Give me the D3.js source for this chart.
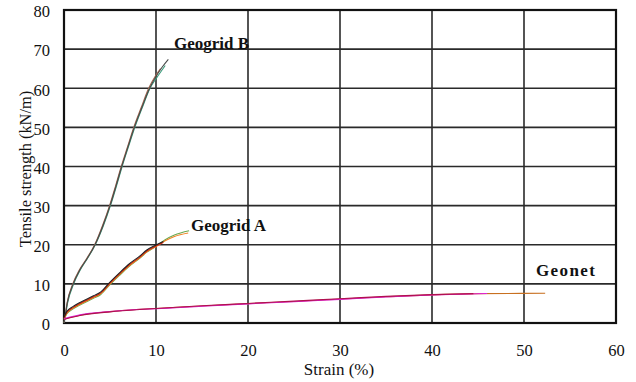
<!DOCTYPE html>
<html>
<head>
<meta charset="utf-8">
<script src="https://cdn.jsdelivr.net/npm/d3@7"></script>
<style>
  body { margin: 0; background: #fff; }
  svg { display: block; }
  text { font-family: "Liberation Serif", "Times New Roman", serif; fill: #111; }
</style>
</head>
<body>
<svg id="chart" width="636" height="382"></svg>
<script>
// Tensile test curves, strain (%) vs tensile strength (kN/m)
const xTicks = [0, 10, 20, 30, 40, 50, 60];
const yTicks = [0, 10, 20, 30, 40, 50, 60, 70, 80];

// Geogrid B specimens
const geogridBStrain1 = [0, 0.13, 0.36, 1.0, 1.7, 2.46, 3.37, 4.25, 5.0, 5.65, 6.27, 6.95, 7.64, 8.45, 9.3, 10.0, 10.7, 11.34];
const geogridBLoad1   = [0, 1.8, 5.2, 10, 13.5, 16.3, 20, 25, 30, 35, 40, 45, 50, 55, 60, 63, 65.5, 67.4];
const geogridBStrain2 = [0, 0.15, 0.4, 1.05, 1.75, 2.5, 3.4, 4.3, 5.05, 5.7, 6.32, 7.0, 7.7, 8.5, 9.35, 10.05, 10.7, 11.0];
const geogridBLoad2   = [0, 1.8, 5.2, 10, 13.5, 16.3, 20, 25, 30, 35, 40, 45, 50, 55, 60, 62.6, 64.8, 65.8];
const geogridBStrain3 = [0, 0.12, 0.34, 0.95, 1.65, 2.42, 3.33, 4.2, 4.95, 5.6, 6.22, 6.9, 7.58, 8.38, 9.2, 9.9, 10.5];
const geogridBLoad3   = [0, 1.8, 5.2, 10, 13.5, 16.3, 20, 25, 30, 35, 40, 45, 50, 55, 60, 63, 65];

// Geogrid A specimens
const geogridAStrain1 = [0, 0.3, 1, 1.74, 3.2, 4, 5, 6, 7, 8.26, 9, 10, 11, 12, 13.5];
const geogridALoad1   = [1, 2.5, 3.8, 4.8, 6.5, 7.5, 10, 12.3, 14.5, 16.7, 18.2, 19.5, 21, 22.1, 23];
const geogridAStrain2 = [0, 0.3, 1, 1.74, 3.2, 4, 5, 6, 7, 8.26, 9, 10, 11, 12, 13.6];
const geogridALoad2   = [0.8, 2.3, 3.6, 4.6, 6.3, 7.3, 9.8, 12.1, 14.3, 16.6, 18.1, 19.6, 21.3, 22.5, 23.6];
const geogridAStrain3 = [0, 0.3, 1, 1.74, 3.2, 4, 5, 6, 7, 8.26, 9, 10, 10.8];
const geogridALoad3   = [1.2, 2.7, 4.0, 5.0, 6.7, 7.7, 10.2, 12.5, 14.7, 16.9, 18.4, 19.7, 20.6];

// Geonet specimens
const geonetStrain1 = [0, 1.74, 5, 8.26, 10, 15, 20, 25, 30, 35, 40, 45, 52.3];
const geonetLoad1   = [1, 2.0, 2.9, 3.5, 3.7, 4.35, 4.95, 5.5, 6.1, 6.7, 7.2, 7.5, 7.6];
const geonetStrain2 = [0, 1.74, 5, 8.26, 10, 15, 20, 25, 30, 35, 40, 44.5];
const geonetLoad2   = [0.9, 1.9, 2.85, 3.45, 3.7, 4.4, 5.0, 5.6, 6.2, 6.8, 7.25, 7.5];
const geonetStrain3 = [0, 1.74, 5, 8.26, 10, 15, 20, 25, 30, 35, 40, 46];
const geonetLoad3   = [1.1, 2.1, 2.95, 3.5, 3.65, 4.3, 4.9, 5.45, 6.05, 6.65, 7.15, 7.55];

const seriesNames = ["Geogrid B", "Geogrid A", "Geonet"];

const specimens = [
  { x: geogridBStrain2, y: geogridBLoad2, color: "#3a9a7a" },
  { x: geogridBStrain3, y: geogridBLoad3, color: "#a86a50" },
  { x: geogridBStrain1, y: geogridBLoad1, color: "#4a4a4a" },
  { x: geogridAStrain2, y: geogridALoad2, color: "#6aa84f" },
  { x: geogridAStrain1, y: geogridALoad1, color: "#f08020" },
  { x: geogridAStrain3, y: geogridALoad3, color: "#d02010" },
  { x: geogridAStrain3, y: geogridALoad3.map(v => v + 0.25), color: "#222" },
  { x: geonetStrain1, y: geonetLoad1, color: "#c87020" },
  { x: geonetStrain3, y: geonetLoad3, color: "#e020e0" },
  { x: geonetStrain2, y: geonetLoad2, color: "#b01050" }
];

const labelPos = [
  { name: seriesNames[0], x: 11.95, y: 70.0, spacing: 0 },
  { name: seriesNames[1], x: 13.8, y: 23.4, spacing: 0 },
  { name: seriesNames[2], x: 51.3, y: 11.9, spacing: 1.4 }
];

const svg = d3.select("#chart");
const margin = { left: 64, right: 20, top: 10, bottom: 59 };
const W = 636, H = 382;

const x = d3.scaleLinear().domain([0, 60]).range([margin.left, W - margin.right]);
const y = d3.scaleLinear().domain([0, 80]).range([H - margin.bottom, margin.top]);

// grid
svg.append("g")
  .selectAll("line")
  .data(xTicks.slice(1, -1))
  .join("line")
  .attr("x1", d => x(d)).attr("x2", d => x(d))
  .attr("y1", y(80)).attr("y2", y(0))
  .attr("stroke", "#2a2a2a").attr("stroke-width", 1.6);
svg.append("g")
  .selectAll("line")
  .data(yTicks.slice(1, -1))
  .join("line")
  .attr("x1", x(0)).attr("x2", x(60))
  .attr("y1", d => y(d)).attr("y2", d => y(d))
  .attr("stroke", "#2a2a2a").attr("stroke-width", 1.6);

// frame
svg.append("rect")
  .attr("x", x(0)).attr("y", y(80))
  .attr("width", x(60) - x(0)).attr("height", y(0) - y(80))
  .attr("fill", "none").attr("stroke", "#111").attr("stroke-width", 2.2);

// axes (labels only)
const xAxis = svg.append("g")
  .attr("transform", `translate(0,${y(0) + 21})`)
  .call(d3.axisBottom(x).tickValues(xTicks).tickSize(0).tickPadding(0));
xAxis.select(".domain").remove();
xAxis.attr("font-family", null);
xAxis.selectAll("text").attr("font-size", 16.5).attr("dy", "0.71em").attr("fill", "#111");

const yAxis = svg.append("g")
  .attr("transform", `translate(${x(0) - 14},1.5)`)
  .call(d3.axisLeft(y).tickValues(yTicks).tickSize(0).tickPadding(0));
yAxis.select(".domain").remove();
yAxis.attr("font-family", null);
yAxis.selectAll("text").attr("font-size", 16.5).attr("fill", "#111");

// axis titles
svg.append("text")
  .attr("x", 339).attr("y", 375)
  .attr("text-anchor", "middle").attr("font-size", 17)
  .text("Strain (%)");
svg.append("text")
  .attr("transform", `translate(31,169) rotate(-90)`)
  .attr("text-anchor", "middle").attr("font-size", 16.4)
  .text("Tensile strength (kN/m)");

// curves
const line = d3.line().x(d => x(d[0])).y(d => y(d[1])).curve(d3.curveMonotoneX);
svg.append("g")
  .selectAll("path")
  .data(specimens)
  .join("path")
  .attr("d", s => line(s.x.map((v, i) => [v, s.y[i]])))
  .attr("fill", "none")
  .attr("stroke", s => s.color)
  .attr("stroke-width", 1.1);

// series labels
svg.append("g")
  .selectAll("text")
  .data(labelPos)
  .join("text")
  .attr("x", d => x(d.x)).attr("y", d => y(d.y))
  .attr("font-size", 17).attr("font-weight", "bold")
  .attr("letter-spacing", d => d.spacing)
  .text(d => d.name);
</script>
</body>
</html>
